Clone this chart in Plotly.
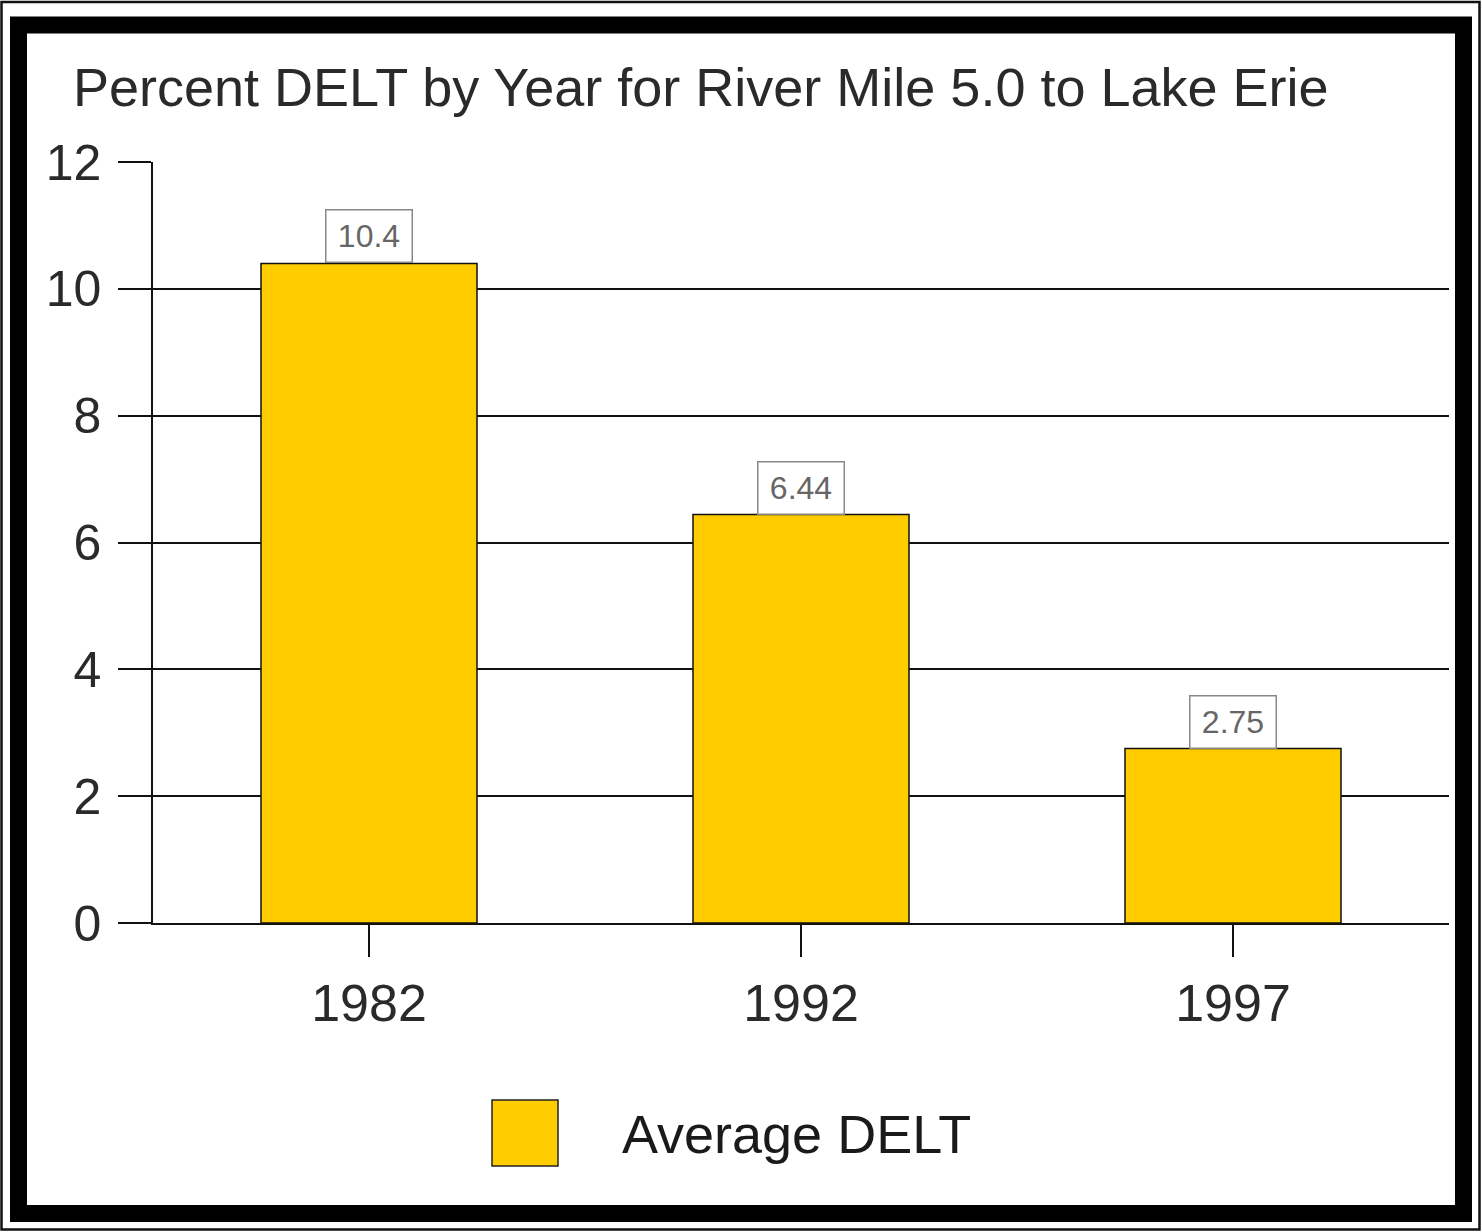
import plotly.graph_objects as go

years = ["1982", "1992", "1997"]
average_delt = [10.4, 6.44, 2.75]
label_text = ["10.4", "6.44", "2.75"]
y_ticks = [0, 2, 4, 6, 8, 10, 12]

W, H = 1482, 1232
ML, MR, MT, MB = 153, 33, 162, 309
PW, PH = W - ML - MR, H - MT - MB

def px(x):
    return (x - ML) / PW

def py(y):
    return 1 - (y - MT) / PH

FONT = "Liberation Sans, Arial, sans-serif"

fig = go.Figure()
fig.add_trace(go.Bar(
    x=years, y=average_delt, width=0.5,
    marker=dict(color="#FFCC00", line=dict(color="#111111", width=1.5)),
    name="Average DELT", showlegend=False, hoverinfo="x+y",
))

annotations = []
for i, (v, t) in enumerate(zip(average_delt, label_text)):
    annotations.append(dict(
        x=i, y=v, xref="x", yref="y", text=t, showarrow=False,
        yanchor="bottom", xanchor="center", width=85, height=51,
        bgcolor="white", bordercolor="#888888", borderwidth=1.5, borderpad=0,
        font=dict(family=FONT, size=32, color="#666666"),
    ))

# title
annotations.append(dict(
    x=px(71), y=py(87), xref="paper", yref="paper", xanchor="left", yanchor="middle",
    text="Percent DELT by Year for River Mile 5.0 to Lake Erie", showarrow=False,
    font=dict(family=FONT, size=54, color="#2a2a2a"),
))
# legend text
annotations.append(dict(
    x=px(620), y=py(1134), xref="paper", yref="paper", xanchor="left", yanchor="middle",
    text="Average DELT", showarrow=False,
    font=dict(family=FONT, size=54, color="#1a1a1a"),
))

shapes = [
    # legend swatch
    dict(type="rect", xref="paper", yref="paper",
         x0=px(492), x1=px(558), y0=py(1166), y1=py(1100),
         fillcolor="#FFCC00", line=dict(color="#222222", width=1.5)),
    # outer thin border
    dict(type="rect", xref="paper", yref="paper",
         x0=px(1.5), x1=px(1479.5), y0=py(1229.5), y1=py(2),
         line=dict(color="#111111", width=2.5)),
    # thick frame
    dict(type="rect", xref="paper", yref="paper",
         x0=px(18.5), x1=px(1463.5), y0=py(1213.5), y1=py(25),
         line=dict(color="black", width=17)),
]

fig.update_layout(
    width=W, height=H,
    margin=dict(l=ML, r=MR, t=MT, b=MB, pad=0),
    paper_bgcolor="white", plot_bgcolor="white",
    showlegend=False,
    annotations=annotations, shapes=shapes,
)
fig.update_xaxes(
    type="category", range=[-0.5, 2.5], showgrid=False, showline=True,
    linecolor="#111111", linewidth=1.5,
    ticks="outside", ticklen=32, tickwidth=1.5, tickcolor="#111111",
    tickfont=dict(family=FONT, size=52, color="#2a2a2a"), ticklabelstandoff=2,
)
fig.update_yaxes(
    range=[0, 12], tickvals=y_ticks, showgrid=True, gridcolor="#111111", gridwidth=1.5,
    showline=True, linecolor="#111111", linewidth=1.5, zeroline=False,
    ticks="outside", ticklen=33, tickwidth=1.5, tickcolor="#111111",
    tickfont=dict(family=FONT, size=50, color="#2a2a2a"), ticklabelstandoff=7,
)

fig.write_html("out.html")
